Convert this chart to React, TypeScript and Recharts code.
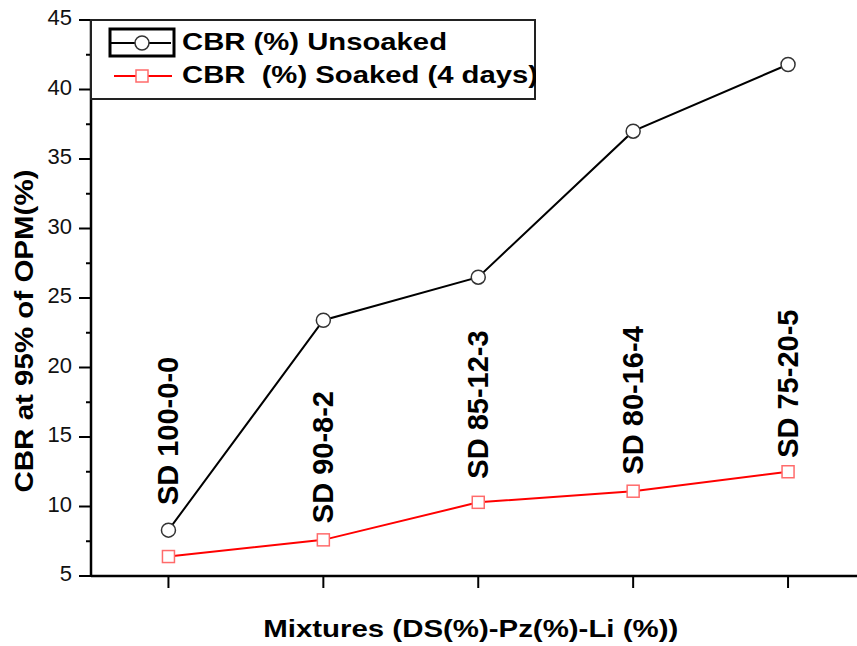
import { LineChart, Line, XAxis, YAxis, Legend, LabelList } from 'recharts';

// mixtures, in the order they were plotted
const mixtures = ['SD 100-0-0', 'SD 90-8-2', 'SD 85-12-3', 'SD 80-16-4', 'SD 75-20-5'];
const mixtureIndex = [1, 2, 3, 4, 5];

// CBR (%)
const cbrUnsoaked = [8.3, 23.4, 26.5, 37.0, 41.8];
const cbrSoaked = [6.4, 7.6, 10.3, 11.1, 12.5];

// CBR level where each rotated mixture label begins
const labelAnchor = [10.1, 8.8, 12.0, 12.3, 13.5];

const yTicks = [5, 7.5, 10, 12.5, 15, 17.5, 20, 22.5, 25, 27.5, 30, 32.5, 35, 37.5, 40, 42.5, 45];

const data = mixtureIndex.map((idx, i) => ({
  idx,
  name: mixtures[i],
  unsoaked: cbrUnsoaked[i],
  soaked: cbrSoaked[i],
  labelAt: labelAnchor[i],
}));

const FONT = '"Liberation Sans", Arial, sans-serif';

function YTick(props: any) {
  const { x, y, payload } = props;
  const axisX = x + 16;
  const major = payload.value % 5 === 0;
  return (
    <g>
      <line x1={major ? axisX - 12 : axisX - 5} x2={axisX} y1={y} y2={y} stroke="#000" strokeWidth={2} />
      {major && (
        <text x={x - 3} y={y + 5} textAnchor="end" fontFamily={FONT} fontSize={22} fill="#111">
          {payload.value}
        </text>
      )}
    </g>
  );
}

function CircleDot(props: any) {
  const { cx, cy } = props;
  if (cx == null || cy == null) return null;
  return <circle cx={cx} cy={cy} r={7} fill="#fff" stroke="#333" strokeWidth={1.5} />;
}

function SquareDot(props: any) {
  const { cx, cy } = props;
  if (cx == null || cy == null) return null;
  return <rect x={cx - 6} y={cy - 6} width={12} height={12} fill="#fff" stroke="#ff6b6b" strokeWidth={1.5} />;
}

function MixtureLabel(props: any) {
  const { x, y, value } = props;
  const bx = x + 10;
  return (
    <text
      x={bx}
      y={y}
      transform={`rotate(-90, ${bx}, ${y})`}
      textAnchor="start"
      fontFamily={FONT}
      fontWeight="bold"
      fontSize={29}
      fill="#000"
    >
      {value}
    </text>
  );
}

function YTitle(props: any) {
  const { viewBox } = props;
  const cx = viewBox.x + 33;
  const cy = viewBox.y + viewBox.height / 2 + 33;
  return (
    <text
      x={cx}
      y={cy}
      transform={`rotate(-90, ${cx}, ${cy})`}
      textAnchor="middle"
      fontFamily={FONT}
      fontWeight="bold"
      fontSize={26}
      textLength={323}
      lengthAdjust="spacingAndGlyphs"
      fill="#000"
    >
      CBR at 95% of OPM(%)
    </text>
  );
}

function XTitle(props: any) {
  const { viewBox } = props;
  const cx = viewBox.x + viewBox.width / 2 - 7.5;
  return (
    <text
      x={cx}
      y={viewBox.y + 61}
      textAnchor="middle"
      fontFamily={FONT}
      fontWeight="bold"
      fontSize={24}
      textLength={415}
      lengthAdjust="spacingAndGlyphs"
      fill="#000"
    >
      Mixtures (DS(%)-Pz(%)-Li (%))
    </text>
  );
}

function LegendBox() {
  return (
    <svg width={446} height={81} style={{ display: 'block' }}>
      <rect x={1} y={1} width={444} height={79} fill="#fff" stroke="#222" strokeWidth={2} />
      <rect x={20} y={10} width={64} height={27} fill="none" stroke="#000" strokeWidth={3} />
      <line x1={21} x2={81} y1={24} y2={24} stroke="#000" strokeWidth={2} />
      <circle cx={52} cy={24} r={7} fill="#fff" stroke="#333" strokeWidth={1.5} />
      <text x={92} y={31} fontFamily={FONT} fontWeight="bold" fontSize={24} textLength={265} lengthAdjust="spacingAndGlyphs">
        CBR (%) Unsoaked
      </text>
      <line x1={24} x2={82} y1={57} y2={57} stroke="#ff0000" strokeWidth={2} />
      <rect x={46} y={51} width={12} height={12} fill="#fff" stroke="#ff6b6b" strokeWidth={1.5} />
      <text x={92} y={64} fontFamily={FONT} fontWeight="bold" fontSize={24} textLength={356} lengthAdjust="spacingAndGlyphs" style={{ whiteSpace: 'pre' }}>
        {'CBR  (%) Soaked (4 days)'}
      </text>
    </svg>
  );
}

export default function App() {
  return (
    <div style={{ position: 'absolute', left: 0, top: 0, width: 857, height: 646, overflow: 'hidden', background: '#fff' }}>
      <LineChart width={880} height={646} data={data} margin={{ top: 20, right: 14.5, bottom: 0, left: 0 }}>
        <XAxis
          xAxisId="bottom"
          dataKey="idx"
          type="number"
          domain={[0.5, 5.5]}
          ticks={mixtureIndex}
          height={70}
          tickSize={12}
          tickLine={{ stroke: '#000', strokeWidth: 2 }}
          axisLine={{ stroke: '#000', strokeWidth: 2.5 }}
          tickFormatter={() => ''}
          label={{ content: XTitle } as any}
        />
        <XAxis
          xAxisId="top"
          dataKey="idx"
          type="number"
          orientation="top"
          domain={[0.5, 5.5]}
          height={0}
          tick={false}
          tickLine={false}
          axisLine={{ stroke: '#000', strokeWidth: 2.5 }}
        />
        <YAxis
          type="number"
          domain={[5, 45]}
          ticks={yTicks}
          interval={0}
          width={91}
          tickSize={12}
          tickMargin={4}
          tickLine={{ stroke: 'none' }}
          tick={<YTick />}
          axisLine={{ stroke: '#000', strokeWidth: 2.5 }}
          label={{ content: YTitle } as any}
        />
        <Legend
          layout="horizontal"
          verticalAlign="middle"
          align="center"
          wrapperStyle={{ left: 90, top: 19, width: 446, height: 81 }}
          content={() => <LegendBox />}
        />
        <Line
          xAxisId="bottom"
          dataKey="labelAt"
          stroke="none"
          dot={false}
          activeDot={false}
          legendType="none"
          isAnimationActive={false}
        >
          <LabelList dataKey="name" content={<MixtureLabel />} />
        </Line>
        <Line
          xAxisId="bottom"
          dataKey="unsoaked"
          name="CBR (%) Unsoaked"
          stroke="#000"
          strokeWidth={2}
          dot={<CircleDot />}
          activeDot={false}
          isAnimationActive={false}
        />
        <Line
          xAxisId="bottom"
          dataKey="soaked"
          name="CBR  (%) Soaked (4 days)"
          stroke="#ff0000"
          strokeWidth={2}
          dot={<SquareDot />}
          activeDot={false}
          isAnimationActive={false}
        />
      </LineChart>
    </div>
  );
}
